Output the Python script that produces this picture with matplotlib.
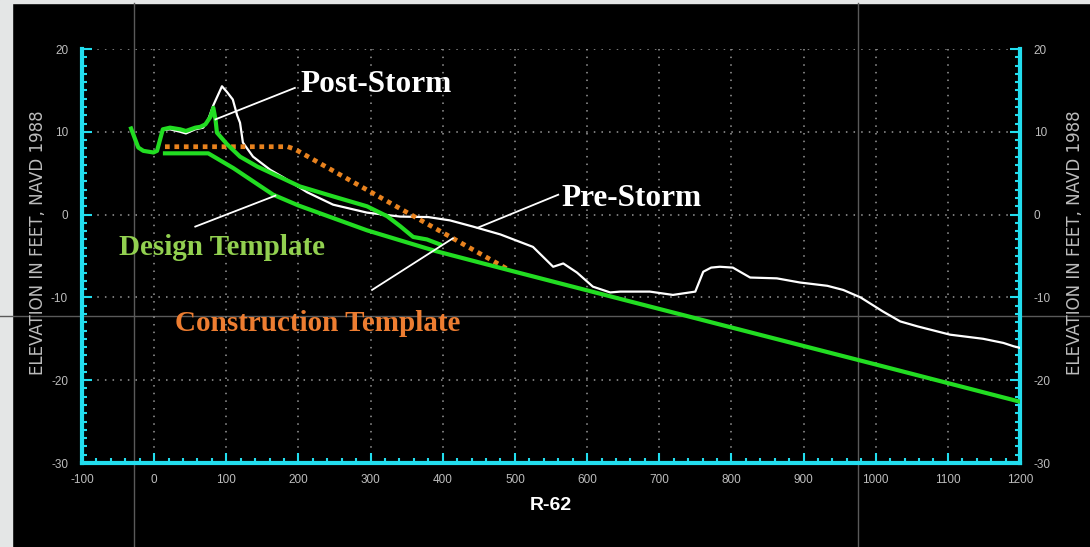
import numpy as np
import matplotlib
matplotlib.use("Agg")
import matplotlib.pyplot as plt
from matplotlib.lines import Line2D
from matplotlib.patches import Rectangle
from matplotlib.ticker import MultipleLocator

plt.rcParams['axes.unicode_minus'] = False

# Profile data (distance along R-62, ft ; elevation, ft NAVD 1988)
pre_x = [-32, -22, -15, -1, 4, 12, 22, 36, 44, 57, 68, 75, 82, 94, 101, 109, 115,
         119, 123, 137, 161, 179, 212, 248, 295, 341, 380, 410, 442, 480, 525, 553,
         567, 586, 608, 632, 646, 687, 719, 750, 761, 772, 784, 802, 826, 863, 895,
         933, 955, 979, 1010, 1034, 1058, 1103, 1149, 1177, 1191, 1200]
pre_y = [10.4, 8.1, 7.7, 7.5, 7.7, 10.2, 10.3, 10.0, 9.8, 10.3, 10.5, 11.5, 13.2,
         15.5, 14.8, 13.9, 12.0, 11.1, 8.7, 7.0, 5.4, 4.5, 2.7, 1.2, 0.24, -0.24,
         -0.3, -0.7, -1.45, -2.4, -3.9, -6.3, -5.9, -7.0, -8.7, -9.4, -9.3, -9.3,
         -9.7, -9.3, -6.9, -6.4, -6.3, -6.4, -7.6, -7.7, -8.2, -8.6, -9.1, -10.0,
         -11.7, -12.9, -13.5, -14.5, -15.0, -15.5, -15.9, -16.1]

post_x = [-32, -22, -15, -1, 4, 12, 22, 36, 44, 57, 64, 71, 78, 82, 85, 87, 101,
          119, 143, 175, 202, 248, 295, 323, 341, 359, 378, 396]
post_y = [10.4, 8.1, 7.7, 7.5, 7.7, 10.3, 10.5, 10.3, 10.1, 10.5, 10.6, 10.9, 11.8,
          12.9, 11.5, 9.9, 8.5, 7.0, 5.8, 4.5, 3.4, 2.2, 1.0, -0.2, -1.4, -2.7,
          -3.0, -3.6]

design_x = [15, 75, 110, 165, 200, 295, 390, 500, 620, 830, 1000, 1200]
design_y = [7.4, 7.4, 5.6, 2.4, 1.1, -1.9, -4.4, -6.9, -9.6, -14.3, -18.1, -22.6]

constr_x = [15, 185, 195, 490]
constr_y = [8.2, 8.2, 7.9, -6.6]

xticks = list(range(-100, 1201, 100))
yticks = list(range(-30, 21, 10))

cyan = '#22DDEE'
tick_gray = '#BDBDBD'

fig = plt.figure(figsize=(10.9, 5.47), dpi=100, facecolor='black')

# slide background edges and faint guide lines
fig.patches.append(Rectangle((0, 0), 12 / 1090, 1, transform=fig.transFigure,
                             color='#E4E6E6', zorder=-3))
fig.patches.append(Rectangle((0, 1 - 3 / 547), 1, 3 / 547, transform=fig.transFigure,
                             color='#E4E6E6', zorder=-3))
for px in (134, 858):
    fig.lines.append(Line2D([px / 1090, px / 1090], [0, 1 - 3 / 547],
                            transform=fig.transFigure, color='#5A5A5A', lw=1, zorder=-1))
fig.lines.append(Line2D([0, 1], [1 - 316 / 547] * 2, transform=fig.transFigure,
                        color='#5A5A5A', lw=1, zorder=-1))

ax = fig.add_axes([82 / 1090, 84 / 547, 938 / 1090, 414 / 547])
ax.set_facecolor('none')
ax.set_xlim(-100, 1200)
ax.set_ylim(-30, 20)

ax.plot(pre_x, pre_y, color='white', lw=1.6, zorder=3)
ax.plot(constr_x, constr_y, color='#E8821E', lw=3.4, linestyle=(0, (1, 1)), zorder=4)
ax.plot(design_x, design_y, color='#22DD22', lw=3.0, zorder=5)
ax.plot(post_x, post_y, color='#22DD22', lw=3.0, zorder=5)

# spines and ticks
for side in ('left', 'right', 'bottom'):
    ax.spines[side].set_color(cyan)
    ax.spines[side].set_linewidth(3)
ax.spines['top'].set_visible(False)
ax.set_xticks(xticks)
ax.set_yticks(yticks)
ax.xaxis.set_minor_locator(MultipleLocator(20))
ax.yaxis.set_minor_locator(MultipleLocator(1))
ax.tick_params(which='both', direction='in', color=cyan, left=True, right=True,
               labelleft=True, labelright=True)
ax.tick_params(which='major', length=7, width=1.5, labelsize=8.5, labelcolor=tick_gray)
ax.tick_params(which='minor', length=3.5, width=1.5)
ax.tick_params(axis='y', which='major', pad=10)
ax.tick_params(axis='x', which='major', pad=8)
for lab in ax.get_xticklabels() + ax.get_yticklabels():
    lab.set_family('Liberation Sans')

ax.grid(True, which='major', color='#9A9A9A', lw=1.1, linestyle=(0, (1, 4)))
ax.set_axisbelow(True)

# axis titles
ylab = 'ELEVATION IN FEET, NAVD 1988'
fig.text(38 / 1090, 1 - 243 / 547, ylab, rotation=90, color=tick_gray, fontsize=12,
         family='DejaVu Sans', ha='center', va='center')
fig.text(1075 / 1090, 1 - 243 / 547, ylab, rotation=90, color=tick_gray, fontsize=12,
         family='DejaVu Sans', ha='center', va='center')
fig.text(551 / 1090, 1 - 505 / 547, 'R-62', color='white', fontsize=14,
         fontweight='bold', family='Liberation Sans', ha='center', va='center')

# labels with leader lines anchored on the curves
labels = [
    ('Post-Storm', 'white', 22.5, (308, 15.7), post_x, post_y, 85, (195, 15.3)),
    ('Pre-Storm', 'white', 22.5, (662, 1.9), pre_x, pre_y, 448, (560, 2.4)),
    ('Design Template', '#92D050', 21, (94, -3.95), design_x, design_y, 168, (57, -1.45)),
    ('Construction Template', '#ED7D31', 21, (227, -13.2), constr_x, constr_y, 414, (302, -9.1)),
]
for text, col, size, pos, sx, sy, anchor, tail in labels:
    ax.text(pos[0], pos[1], text, color=col, fontsize=size, fontweight='bold',
            family='Liberation Serif', ha='center', va='center', zorder=6)
    ay = np.interp(anchor, sx, sy)
    ax.plot([anchor, tail[0]], [ay, tail[1]], color='white', lw=1.3, zorder=6)

fig.savefig('out.png', dpi=100, facecolor=fig.get_facecolor())
